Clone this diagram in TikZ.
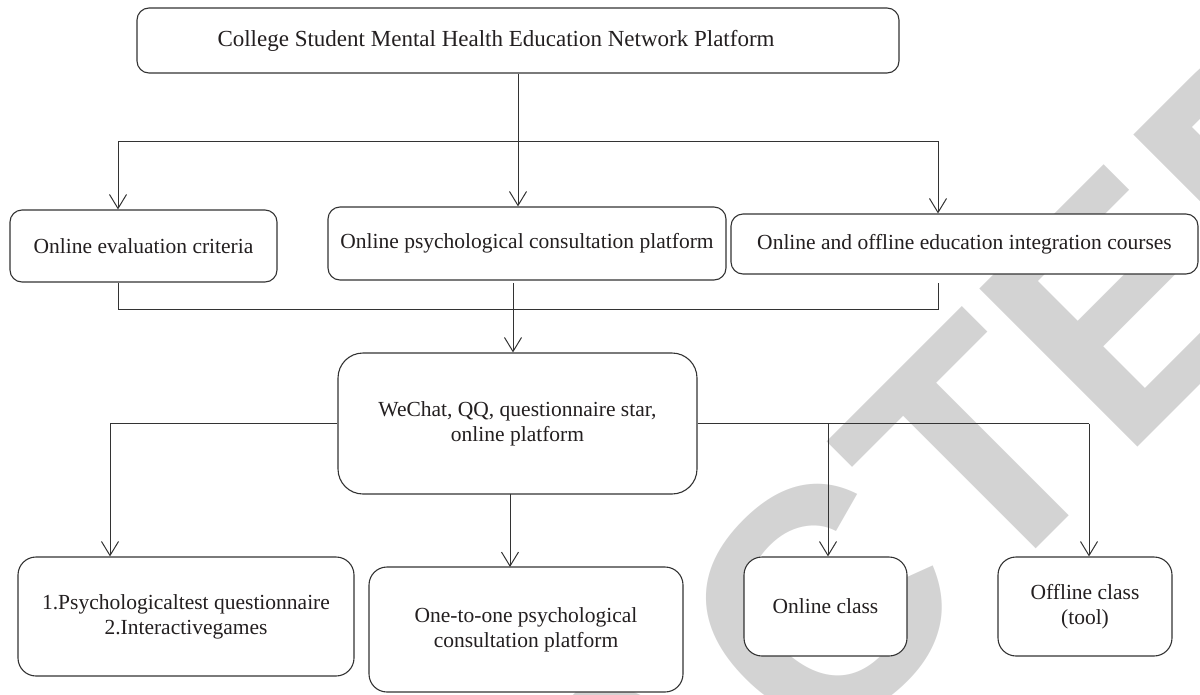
\documentclass[tikz,border=0pt]{standalone}
\usepackage{fontspec}
\setmainfont{Liberation Serif}
\newfontfamily\markfont{Liberation Sans}
\usetikzlibrary{arrows.meta}
\definecolor{linegray}{HTML}{333333}
\definecolor{textdark}{HTML}{231F20}
\definecolor{markgray}{HTML}{D3D3D3}

\begin{document}
\begin{tikzpicture}[x=1pt,y=-1pt,font=\fontsize{21.5}{25}\selectfont,text=textdark,
  box/.style={draw=linegray,line width=1.1pt,fill=white,rounded corners=12pt,align=center,inner sep=0pt},
  link/.style={draw=linegray,line width=1pt},
  arr/.style={link,-{Straight Barb[length=14pt,width=17pt]}}]
  \useasboundingbox (0,0) rectangle (1200,694);
  \clip (0,0) rectangle (1200,694);

  % watermark
  \node[rotate=45,anchor=base west,inner sep=0pt,text=markgray,
    font=\markfont\bfseries\fontsize{325}{325}\selectfont] (mark) at (25,1560) {RETRACTED};

  % boxes
  \node[box,minimum width=762pt,minimum height=65pt,font=\fontsize{23}{27}\selectfont] (top) at (518,40.5) {College Student Mental Health Education Network Platform\hspace*{44pt}};
  \node[box,minimum width=267pt,minimum height=72pt] (eval) at (143.5,246) {Online evaluation criteria};
  \node[box,minimum width=398pt,minimum height=73pt] (consult) at (527,243.5) {Online psychological consultation platform};
  \node[box,minimum width=467pt,minimum height=60pt] (courses) at (964.5,244) {Online and offline education integration courses};
  \node[box,rounded corners=25pt,minimum width=359pt,minimum height=141pt] (hub) at (517.5,423.5) {WeChat, QQ, questionnaire star,\\online platform};
  \node[box,rounded corners=18pt,minimum width=336pt,minimum height=119pt] (quest) at (186,616.5) {1.Psychologicaltest questionnaire\\2.Interactivegames};
  \node[box,rounded corners=18pt,minimum width=314pt,minimum height=125pt] (onetoone) at (526,629.5) {One-to-one psychological\\consultation platform};
  \node[box,rounded corners=18pt,minimum width=163pt,minimum height=99pt] (onclass) at (825.5,606.5) {Online class};
  \node[box,rounded corners=18pt,minimum width=174pt,minimum height=99pt] (offclass) at (1085,606.5) {Offline class\\(tool)};

  % junctions
  \coordinate (busL) at (118,141);
  \coordinate (busR) at (938,141);
  \coordinate (mergeL) at (118,309);
  \coordinate (mergeR) at (938,309);
  \coordinate (mergeC) at (513,283);
  \coordinate (hubL) at (110,423.5);
  \coordinate (hubR) at (1089,423.5);
  \coordinate (onX) at (828,423.5);

  % connectors
  \draw[arr] (top.south) -- (top.south |- consult.north);
  \draw[link] (busL) -- (busR);
  \draw[arr] (busL) -- (busL |- eval.north);
  \draw[arr] (busR) -- (busR |- courses.north);
  \draw[link] (mergeL |- eval.south) -- (mergeL) -- (mergeR) -- (938,283);
  \draw[arr] (mergeC) -- (mergeC |- hub.north);
  \draw[link] (hub.west) -- (hubL);
  \draw[arr] (hubL) -- (hubL |- quest.north);
  \draw[arr] (510,494) -- (510,567);
  \draw[link] (hub.east) -- (hubR);
  \draw[arr] (onX) -- (onX |- onclass.north);
  \draw[arr] (hubR) -- (hubR |- offclass.north);
\end{tikzpicture}
\end{document}
